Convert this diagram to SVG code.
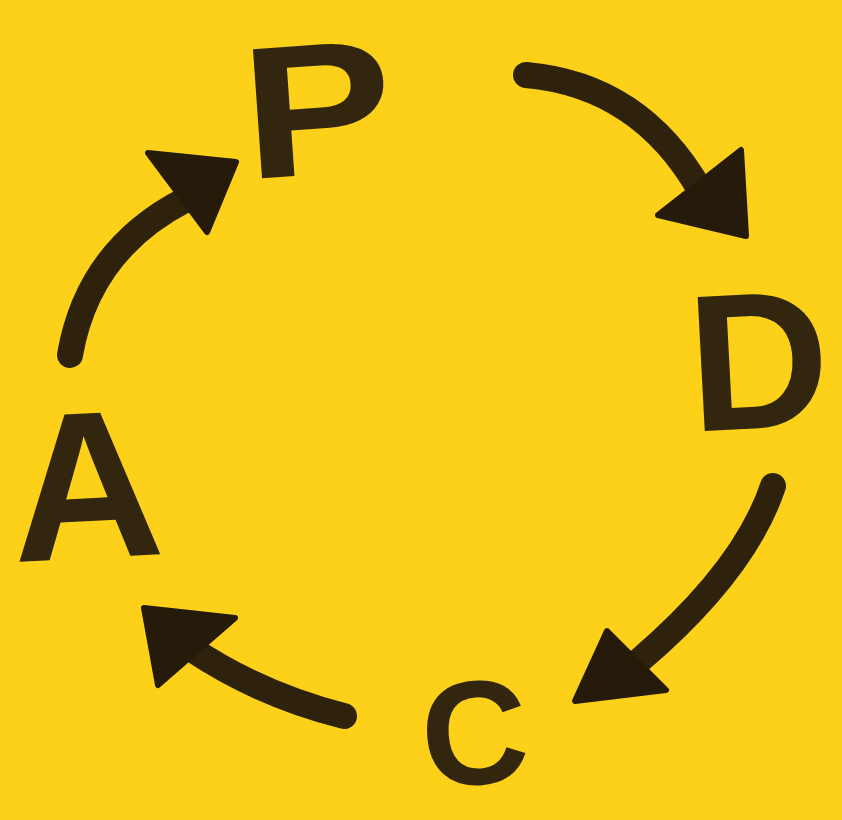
<svg xmlns="http://www.w3.org/2000/svg" width="842" height="820" viewBox="0 0 842 820">
<style>
.shaft{fill:none;stroke:#2e220d;stroke-width:26;stroke-linecap:round}
.head{fill:#261b0a;stroke:#261b0a;stroke-width:6;stroke-linejoin:round}
.lt{font-family:"Liberation Sans","DejaVu Sans",sans-serif;font-weight:bold;fill:#33260e;text-anchor:middle}
</style>
<rect width="842" height="820" fill="#FDD11A"/>
<g id="connectors">
<g id="p-to-d"><path class="shaft" d="M526,75 Q640,85 700,190"/><polygon class="head" points="658,215 741,150 746,236"/></g>
<g id="d-to-c"><path class="shaft" d="M773,486 Q745,570 640,660"/><polygon class="head" points="607,631 666,690 575,701"/></g>
<g id="c-to-a"><path class="shaft" d="M344,716 Q260,695 190,648"/><polygon class="head" points="235,618 158,685 144,608"/></g>
<g id="a-to-p"><path class="shaft" d="M70,355 Q88,250 185,200"/><polygon class="head" points="148,153 207,232 236,162"/></g>
</g>
<g id="P"><text class="lt" x="0" y="0" font-size="188" transform="translate(322,174) rotate(-4) scale(1.2,1)">P</text></g>
<g id="D"><text class="lt" x="0" y="0" font-size="195" transform="translate(762,428) rotate(-3)">D</text></g>
<g id="C"><text class="lt" x="0" y="0" font-size="148" transform="translate(478,784) rotate(-4)">C</text></g>
<g id="A"><text class="lt" x="0" y="0" font-size="210" transform="translate(90,558) rotate(-3)">A</text></g>
</svg>
